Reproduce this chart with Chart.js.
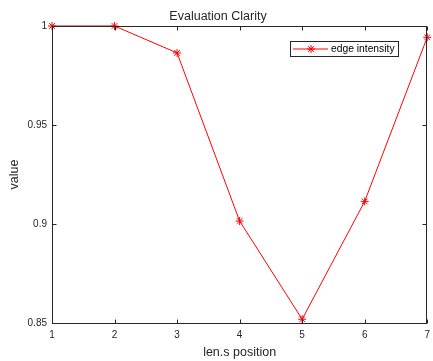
<!DOCTYPE html>
<html>
<head>
<meta charset="utf-8">
<script src="https://cdn.jsdelivr.net/npm/chart.js@4.4.1/dist/chart.umd.min.js"></script>
<style>
  html, body { margin: 0; padding: 0; background: #fff; overflow: hidden; }
  /* un peu plus large que la fenêtre : le "7" déborde comme dans MATLAB */
  #wrap { width: 436px; height: 361px; }
</style>
</head>
<body>
<div id="wrap"><canvas id="chart"></canvas></div>
<script>
// data
const positions = [1, 2, 3, 4, 5, 6, 7];
const edgeIntensity = [1.0, 1.0, 0.9864, 0.9015, 0.8519, 0.9114, 0.9943];
const yTicks = [0.85, 0.9, 0.95, 1];

const axisColor = "#262626";
const FONT = "Arial, 'Liberation Sans', sans-serif";

// boîte MATLAB + ticks vers l'intérieur + légende
const matlabBox = {
    id: "matlabBox",
    afterDatasetsDraw(chart) {
        const ctx = chart.ctx;
        const a = chart.chartArea;
        const xs = chart.scales.x, ys = chart.scales.y;
        ctx.save();
        ctx.strokeStyle = axisColor;
        ctx.lineWidth = 1;
        const L = Math.round(a.left) + 0.5, R = Math.round(a.right) - 0.5;
        const T = Math.round(a.top) + 0.5, B = Math.round(a.bottom) + 0.5;
        ctx.strokeRect(L, T, R - L, B - T);
        ctx.beginPath();
        positions.forEach(v => {
            const px = Math.round(xs.getPixelForValue(v)) + 0.5;
            ctx.moveTo(px, B); ctx.lineTo(px, B - 4);
            ctx.moveTo(px, T); ctx.lineTo(px, T + 4);
        });
        yTicks.forEach(v => {
            const py = Math.round(ys.getPixelForValue(v)) + 0.5;
            ctx.moveTo(L, py); ctx.lineTo(L + 4, py);
            ctx.moveTo(R, py); ctx.lineTo(R - 4, py);
        });
        ctx.stroke();

        // légende
        const ds = chart.data.datasets[0];
        const lx = 290.5, ly = 41.5, lw = 108, lh = 15;
        ctx.fillStyle = "#fff";
        ctx.fillRect(lx, ly, lw, lh);
        ctx.strokeStyle = axisColor;
        ctx.strokeRect(lx, ly, lw, lh);
        const cy = ly + lh / 2;
        ctx.strokeStyle = ds.borderColor;
        ctx.beginPath();
        ctx.moveTo(293, cy); ctx.lineTo(328, cy);
        ctx.stroke();
        Chart.helpers.drawPoint(ctx, { pointStyle: "star", radius: 4, borderWidth: 1 }, 311, cy);
        ctx.fillStyle = "#000";
        ctx.font = "10.3px " + FONT;
        ctx.textBaseline = "middle";
        ctx.fillText(ds.label, 331, cy + 0.5);
        ctx.restore();
    }
};

new Chart(document.getElementById("chart"), {
    type: "line",
    data: {
        datasets: [{
            label: "edge intensity",
            data: positions.map((p, i) => ({ x: p, y: edgeIntensity[i] })),
            borderColor: "#ff0000",
            backgroundColor: "#ff0000",
            borderWidth: 1,
            pointStyle: "star",
            pointRadius: 4,
            pointBorderWidth: 1,
            pointBorderColor: "#ff0000",
            tension: 0,
            clip: false
        }]
    },
    plugins: [matlabBox],
    options: {
        responsive: true,
        maintainAspectRatio: false,
        animation: false,
        layout: { padding: 0 },
        plugins: {
            legend: { display: false },
            tooltip: { enabled: false },
            title: {
                display: true,
                text: "Evaluation Clarity",
                color: axisColor,
                font: { family: FONT, size: 12.5, weight: "normal" },
                padding: { top: 9, bottom: 2 }
            }
        },
        scales: {
            x: {
                type: "linear",
                min: 1, max: 7,
                grid: { display: false, drawTicks: false },
                border: { display: false },
                ticks: {
                    stepSize: 1,
                    color: axisColor,
                    padding: 6,
                    maxRotation: 0,
                    font: { family: FONT, size: 10 }
                },
                title: {
                    display: true,
                    text: "len.s position",
                    color: axisColor,
                    font: { family: FONT, size: 12.5 },
                    padding: { top: 0, bottom: 1 }
                },
                afterFit(scale) {
                    scale.height = 38;
                }
            },
            y: {
                min: 0.85, max: 1,
                afterBuildTicks(scale) {
                    scale.ticks = yTicks.map(v => ({ value: v }));
                },
                grid: { display: false, drawTicks: false },
                border: { display: false },
                ticks: {
                    color: axisColor,
                    padding: 5,
                    font: { family: FONT, size: 10 },
                    callback: v => String(+v.toFixed(2))
                },
                title: {
                    display: true,
                    text: "value",
                    color: axisColor,
                    font: { family: FONT, size: 12.5 },
                    padding: { top: 7, bottom: 0 }
                },
                afterFit(scale) {
                    scale.width = 52;
                    scale.paddingTop = 0;
                    scale.paddingBottom = 0;
                }
            }
        }
    }
});
</script>
</body>
</html>
